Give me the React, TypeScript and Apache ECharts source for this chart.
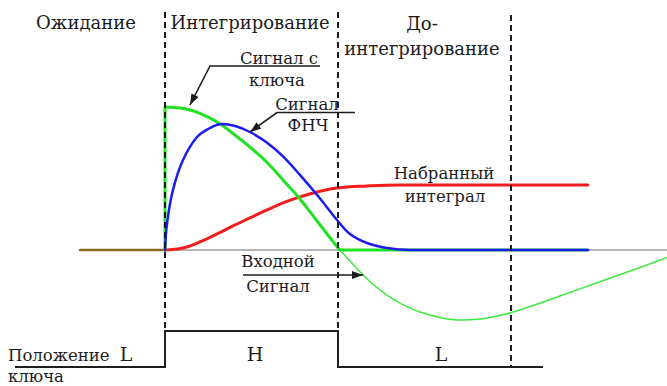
import React, { useEffect, useRef } from "react";
import * as echarts from "echarts";

// Time axis: 0 = integration start (key closes), 10 = key opens, 20 = end of post-integration.
// Signal axis: 1 = peak of the key signal.
const X_MIN = -9.54;
const X_MAX = 29.02;
const Y_MIN = -0.951;
const Y_MAX = 1.748;
// Key position axis: 0 = L, 1 = H.
const KEY_MIN = -0.528;
const KEY_MAX = 10.19;

// Signal from the key (thick green): step up at 0, falls until the key opens, then zero.
const keySignalT = [0, 0, null, 0, 0.87, 1.45, 2.02, 3.01, 3.93, 4.91, 5.9, 6.82, 7.8, 8.79, 9.94, 10.12, null, 10.12, 24.45];
const keySignalV = [0, 1.0, null, 1.0, 0.993, 0.979, 0.955, 0.895, 0.815, 0.72, 0.612, 0.49, 0.357, 0.203, 0.024, 0, null, 0, 0];

// Input signal (thin green) continuing after the key opens.
const inputT = [0, 0.87, 1.45, 2.02, 3.01, 3.93, 4.91, 5.9, 6.82, 7.8, 8.79, 9.94, 10.12, 10.69, 11.45, 12.14, 12.83, 13.58, 14.74, 15.9, 17.05, 18.21, 19.19, 19.94, 21.1, 22.83, 25.14, 27.17, 29.02];
const inputV = [1.0, 0.993, 0.979, 0.955, 0.895, 0.815, 0.72, 0.612, 0.49, 0.357, 0.203, 0.024, 0, -0.077, -0.175, -0.252, -0.315, -0.371, -0.434, -0.472, -0.49, -0.483, -0.462, -0.44, -0.395, -0.322, -0.222, -0.135, -0.052];

// Low-pass filter output (blue).
const lpfT = [0, 0.12, 0.46, 1.04, 1.85, 2.6, 3.29, 4.05, 4.91, 5.9, 6.82, 7.8, 8.96, 9.94, 10.69, 11.68, 12.83, 14.16, 24.45];
const lpfV = [0, 0.189, 0.42, 0.629, 0.79, 0.853, 0.881, 0.867, 0.825, 0.75, 0.655, 0.525, 0.36, 0.21, 0.112, 0.049, 0.014, 0, 0];

// Accumulated integral (red).
const integralT = [0, 1.04, 2.02, 3.01, 3.93, 4.91, 5.9, 6.82, 7.8, 8.79, 9.94, 11.68, 13.58, 24.45];
const integralV = [0, 0.014, 0.056, 0.112, 0.168, 0.224, 0.28, 0.329, 0.371, 0.406, 0.434, 0.448, 0.455, 0.455];

// Zero level before integration (red and green overlapping) and the zero axis.
const idleT = [-4.91, 0];
const idleV = [0, 0];
const zeroAxisT = [0, 29.02];
const zeroAxisV = [0, 0];

// Phase boundaries (dashed).
const boundaryT = [0, 0, null, 10, 10, null, 20, 20];
const boundaryV = [1.664, -0.566, null, 1.664, -0.566, null, 1.643, -0.818];

// Key position: L / H / L.
const keyPosT = [-8.67, 0, 0, 10, 10, 21.85];
const keyPosV = [0, 0, 1, 1, 0, 0];

// Phase names and key state letters.
const phaseLabels = ["Ожидание", "Интегрирование", "До-", "интегрирование"];
const keyStateLabels = ["L", "H", "L"];

const zip = (xs: (number | null)[], ys: (number | null)[]) =>
  xs.map((x, i) => (x === null || ys[i] === null ? ["-", "-"] : [x, ys[i]]));

const TEXT = "#1c1c1c";
const SERIF = "DejaVu Serif";

function arrowHead(tip: [number, number], from: [number, number], len = 11, half = 4) {
  const dx = tip[0] - from[0];
  const dy = tip[1] - from[1];
  const d = Math.hypot(dx, dy);
  const ux = dx / d;
  const uy = dy / d;
  const bx = tip[0] - ux * len;
  const by = tip[1] - uy * len;
  return {
    type: "polygon",
    shape: {
      points: [
        tip,
        [bx - uy * half, by + ux * half],
        [bx + uy * half, by - ux * half],
      ],
    },
    style: { fill: TEXT },
    z: 20,
  };
}

function leader(points: [number, number][]) {
  const tip = points[points.length - 1];
  const prev = points[points.length - 2];
  return [
    {
      type: "polyline",
      shape: { points },
      style: { stroke: TEXT, lineWidth: 1.6, fill: "none" },
      z: 20,
    },
    arrowHead(tip, prev),
  ];
}

// Free-standing text placed by its anchor point.
function label(text: string, x: number, y: number, size: number, align = "center") {
  return {
    text,
    left: x,
    top: y,
    padding: 0,
    itemGap: 0,
    textAlign: align,
    textVerticalAlign: "middle",
    textStyle: {
      fontFamily: SERIF,
      fontSize: size,
      fontWeight: "normal",
      color: TEXT,
    },
    z: 20,
  };
}

export default function App() {
  const ref = useRef<HTMLDivElement>(null);

  useEffect(() => {
    if (!ref.current) return;
    const chart = echarts.init(ref.current, undefined, { renderer: "svg" });

    const lineSeries = (
      name: string,
      data: any[],
      color: string,
      width: number,
      opts: any = {}
    ) => ({
      name,
      type: "line",
      data,
      showSymbol: false,
      symbol: "none",
      lineStyle: { color, width, cap: "round", join: "round" },
      connectNulls: false,
      silent: true,
      ...opts,
    });

    chart.setOption({
      animation: false,
      backgroundColor: "#ffffff",
      grid: { left: 0, right: 0, top: 0, bottom: 0, containLabel: false },
      xAxis: { type: "value", min: X_MIN, max: X_MAX, show: false },
      yAxis: [
        { type: "value", min: Y_MIN, max: Y_MAX, show: false },
        { type: "value", min: KEY_MIN, max: KEY_MAX, show: false },
      ],
      title: [
        label(phaseLabels[0], 86, 22, 18),
        label(phaseLabels[1], 250, 22, 18),
        label(phaseLabels[2], 422, 23, 18),
        label(phaseLabels[3], 422, 48, 18),
        label("Сигнал с", 279, 58, 16.5),
        label("ключа", 277, 80, 16.5),
        label("Сигнал", 307, 104, 16.5),
        label("ФНЧ", 308, 125, 16.5),
        label("Набранный", 444, 173, 16.5),
        label("интеграл", 445, 196, 16.5),
        label("Входной", 278, 261, 16.5),
        label("Сигнал", 278, 286, 16.5),
        label("Положение", 8, 355, 16.5, "left"),
        label("ключа", 8, 376, 16.5, "left"),
        label(keyStateLabels[0], 126, 354, 19),
        label(keyStateLabels[1], 255, 354, 19),
        label(keyStateLabels[2], 441, 354, 19),
      ],
      series: [
        lineSeries("zero", zip(zeroAxisT, zeroAxisV), "#b4b4b4", 2, { z: 1 }),
        lineSeries("idle", zip(idleT, idleV), "#8a6a22", 2.5, { z: 2 }),
        lineSeries("Входной сигнал", zip(inputT, inputV), "#3ee83e", 1.5, { smooth: 0.4, z: 3 }),
        lineSeries("Набранный интеграл", zip(integralT, integralV), "#f41c1c", 3, { smooth: 0.4, z: 4 }),
        lineSeries("Сигнал с ключа", zip(keySignalT, keySignalV), "#22e022", 3, { smooth: 0.4, z: 5 }),
        lineSeries("Сигнал ФНЧ", zip(lpfT, lpfV), "#1c1ced", 2.5, { smooth: 0.4, z: 6 }),
        lineSeries("boundaries", zip(boundaryT, boundaryV), "#1a1a1a", 2, {
          z: 7,
          lineStyle: { color: "#1a1a1a", width: 2, type: [6, 4], cap: "butt" },
        }),
        lineSeries("Положение ключа", zip(keyPosT, keyPosV), "#1f1f1f", 2, {
          yAxisIndex: 1,
          z: 8,
          lineStyle: { color: "#1f1f1f", width: 2, join: "miter" },
        }),
      ],
      graphic: [
        ...leader([[320, 66], [210, 66], [190, 105]]),
        ...leader([[355, 112.5], [277, 112.5], [250, 132]]),
        ...leader([[243, 275], [363, 275]]),
      ],
    });

    return () => chart.dispose();
  }, []);

  return (
    <div
      ref={ref}
      style={{ position: "fixed", left: 0, top: 0, width: 667, height: 386, background: "#fff" }}
    />
  );
}
